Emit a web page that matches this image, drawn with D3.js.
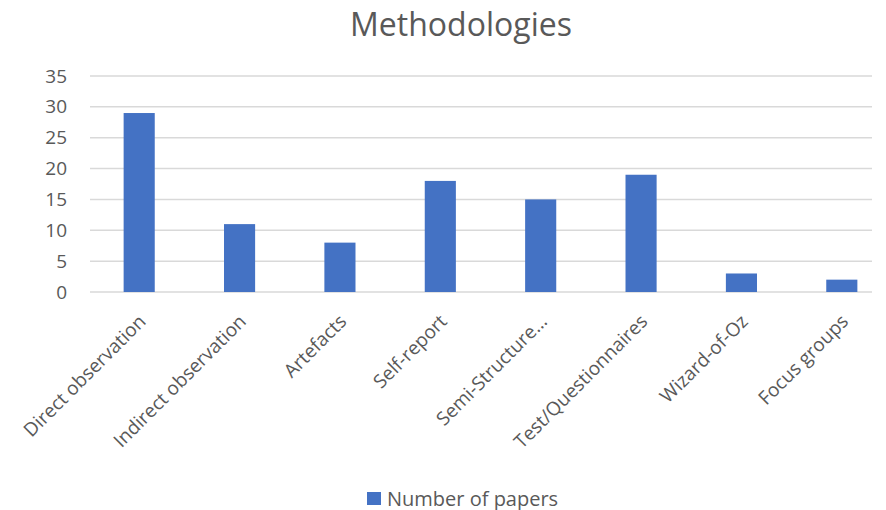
<!DOCTYPE html>
<html>
<head>
<meta charset="utf-8">
<script src="https://cdn.jsdelivr.net/npm/d3@7"></script>
<style>
  body { margin: 0; background: #fff; }
  svg { display: block; font-family: "Open Sans", "Noto Sans", sans-serif; }
</style>
</head>
<body>
<svg id="chart" width="886" height="510"></svg>
<script>
const categories = ["Direct observation", "Indirect observation", "Artefacts", "Self-report",
  "Semi-Structure...", "Test/Questionnaires", "Wizard-of-Oz", "Focus groups"];
const papers = [29, 11, 8, 18, 15, 19, 3, 2];
const yTicks = [0, 5, 10, 15, 20, 25, 30, 35];
const seriesName = "Number of papers";
const title = "Methodologies";

const svg = d3.select("#chart");
const W = 886, H = 510;
const plot = { left: 90, right: 872, top: 76, bottom: 292 };

// category band runs slightly past the visible right edge of the gridlines
const x = d3.scaleBand().domain(categories)
  .range([plot.left - 1, plot.left + 802])
  .paddingInner(0.69).paddingOuter(0.345);
const y = d3.scaleLinear().domain([0, 35]).range([plot.bottom, plot.top]);

const textColor = "#595959";
const font = "'Open Sans', 'Noto Sans', sans-serif";

// title
svg.append("text")
  .attr("x", 461).attr("y", 36)
  .attr("text-anchor", "middle")
  .attr("fill", textColor)
  .style("font-size", "32px")
  .text(title);

// horizontal gridlines
svg.append("g").selectAll("line").data(yTicks).join("line")
  .attr("x1", plot.left).attr("x2", plot.right)
  .attr("y1", d => y(d)).attr("y2", d => y(d))
  .attr("stroke", "#d9d9d9").attr("stroke-width", 1.5);

// y axis labels
const yAxis = svg.append("g")
  .attr("transform", `translate(${plot.left - 23},0)`)
  .call(d3.axisLeft(y).tickValues(yTicks).tickSize(0).tickPadding(0));
yAxis.select(".domain").remove();
yAxis.selectAll("text")
  .attr("fill", textColor)
  .style("font-size", "19px")
  .style("font-family", font);

// bars
svg.append("g").selectAll("rect").data(papers).join("rect")
  .attr("x", (d, i) => x(categories[i]))
  .attr("width", x.bandwidth())
  .attr("y", d => y(d))
  .attr("height", d => y(0) - y(d))
  .attr("fill", "#4472c4");

// x axis labels, rotated
const xAxis = svg.append("g")
  .attr("transform", `translate(0,${y(0)})`)
  .call(d3.axisBottom(x).tickSize(0).tickPadding(0));
xAxis.select(".domain").remove();
xAxis.selectAll("text")
  .attr("fill", textColor)
  .style("font-size", "19px")
  .style("font-family", font)
  .attr("text-anchor", "end")
  .attr("dy", "0.35em")
  .attr("transform", "translate(3,26) rotate(-45)");

// legend
const lg = svg.append("g").attr("transform", "translate(367,492)");
lg.append("rect").attr("width", 14).attr("height", 13).attr("fill", "#4472c4");
lg.append("text").attr("x", 20).attr("y", 6.5).attr("dy", "0.35em")
  .attr("fill", textColor).style("font-size", "20px").text(seriesName);
</script>
</body>
</html>
